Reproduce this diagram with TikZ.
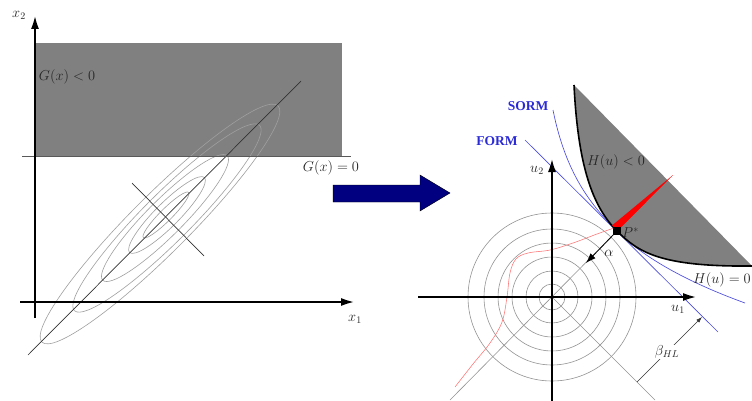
\documentclass[tikz,border=0pt]{standalone}
\usepackage{fontspec}
\newfontfamily\tnr{Liberation Serif}
\usetikzlibrary{arrows.meta}
\definecolor{gfill}{HTML}{808080}
\definecolor{navyc}{HTML}{000080}
\definecolor{formblue}{HTML}{2B2BD6}
\begin{document}
\begin{tikzpicture}[x=1pt,y=-1pt,
  lbl/.style={inner sep=0pt, text=black!85, font=\fontsize{14}{16}\selectfont},
  blbl/.style={inner sep=0pt, text=formblue, font=\tnr\bfseries\fontsize{13.5}{16}\selectfont},
  axis/.style={line width=2.4pt, -{Latex[length=14pt,width=8pt]}},
  ell/.style={gray!75, line width=0.6pt},
  ring/.style={gray!85, line width=0.6pt},
  thinblack/.style={black!80, line width=0.7pt},
  blueline/.style={formblue!85, line width=0.65pt},
]
\useasboundingbox (0,0) rectangle (752,401);

% ---------------- left panel ----------------
\fill[gfill] (35,43) rectangle (342,156);
\draw[ell, rotate around={45:(160,224)}] (160,224) ellipse [x radius=167, y radius=29];
\draw[ell, rotate around={45:(167,218)}] (167,218) ellipse [x radius=131, y radius=24];
\draw[ell, rotate around={45:(165,218)}] (165,218) ellipse [x radius=88, y radius=18];
\draw[ell, rotate around={45:(167,215)}] (167,215) ellipse [x radius=53, y radius=12];
\draw[ell, rotate around={45:(166,215)}] (166,215) ellipse [x radius=32, y radius=6];

\coordinate (d1) at (28,355);
\coordinate (d2) at (301,81);
\draw[thinblack] (d1) -- (d2);
\coordinate (c1) at (132,183);
\coordinate (c2) at (204,256);
\draw[thinblack] (c1) -- (c2);
\coordinate (g1) at (22,156);
\coordinate (g2) at (351,156);
\draw[black!65, line width=0.9pt] (g1) -- (g2);

\coordinate (x2b) at (35,318);
\coordinate (x2t) at (35,15);
\coordinate (x1l) at (20,302);
\coordinate (x1r) at (355,302);
\draw[axis] (x2b) -- (x2t);
\draw[axis] (x1l) -- (x1r);

\node[lbl] (x2) at (19,15) {$x_2$};
\node[lbl] (x1) at (355,319) {$x_1$};
\node[lbl] (gneg) at (67,77) {$G(x)<0$};
\node[lbl] (gzero) at (331,168) {$G(x)=0$};

% ---------------- big arrow ----------------
\draw[fill=navyc, draw=black, line width=0.4pt]
  (333,185) -- (420,185) -- (420,175) -- (450,193) -- (420,211) -- (420,202) -- (333,202) -- cycle;

% ---------------- right panel ----------------
\coordinate (O) at (552,297);
\foreach \r in {13,26,40,54,68,84}
  \draw[ring] (O) circle[radius=\r];

\node[fill=black, minimum size=8pt, inner sep=0pt] (P) at (617,231) {};
\coordinate (ll) at (450,400);
\coordinate (lr) at (655,400);
\draw[gray!85, line width=0.6pt] (ll) -- (P.center);
\draw[gray!85, line width=0.6pt] (O) -- (lr);

\draw[red!55, line width=0.55pt] plot[smooth, tension=0.6] coordinates
  {(455,387) (473,364) (490,343) (502,322) (507,297) (510,273) (516,259) (528,253) (550,250) (573,243) (597,234) (614,228)};

% limit-state region
\fill[gfill] (574,85) .. controls (578,165) and (592,206) .. (617,231)
  .. controls (638,252) and (660,267) .. (752,266) -- cycle;

% FORM / SORM
\coordinate (f1) at (525,140);
\coordinate (f2) at (718,332);
\draw[blueline] (f1) -- (f2);
\coordinate (s1) at (553,110);
\coordinate (s2) at (745,303);
\draw[blueline] (s1) .. controls (566,175) and (592,206) .. (617,231)
  .. controls (645,259) and (690,283) .. (s2);

% H(u)=0 curve
\draw[black, line width=1.6pt] (574,85) .. controls (578,165) and (592,206) .. (617,231)
  .. controls (638,252) and (660,267) .. (752,266);

% red wedge
\fill[red] (612,225.5) -- (673,175) -- (617.5,231) -- cycle;
\node[fill=black, minimum size=8pt, inner sep=0pt] at (P) {};

% axes
\coordinate (u2b) at (552,401);
\coordinate (u2t) at (552,158);
\coordinate (u1l) at (418,297);
\coordinate (u1r) at (697,297);
\draw[axis] (u2b) -- (u2t);
\draw[axis] (u1l) -- (u1r);

% alpha arrow
\coordinate (aend) at (586,263);
\draw[black, line width=0.8pt, -{Latex[length=10pt,width=7pt]}] (P.center) -- (aend);

% beta_HL dimension
\coordinate (b1) at (637,382);
\coordinate (b2) at (702,317);
\draw[black!80, line width=0.5pt, -{Latex[length=6pt,width=4pt]}] (b1) -- (b2);

% labels
\node[lbl] (u2) at (537,170) {$u_2$};
\node[lbl] (u1) at (678,309) {$u_1$};
\node[lbl, anchor=west] (Pl) at (622,233) {$P^{*}$};
\node[lbl] (al) at (609,253) {$\alpha$};
\node[lbl] (hneg) at (616,162) {$H(u)<0$};
\node[lbl, anchor=east] (hzero) at (751,280) {$H(u)=0$};
\node[lbl, fill=white, inner sep=1pt] (beta) at (667,352) {$\beta_{HL}$};
\node[blbl] (sorm) at (528,106) {SORM};
\node[blbl] (form) at (497,141) {FORM};
\end{tikzpicture}
\end{document}
